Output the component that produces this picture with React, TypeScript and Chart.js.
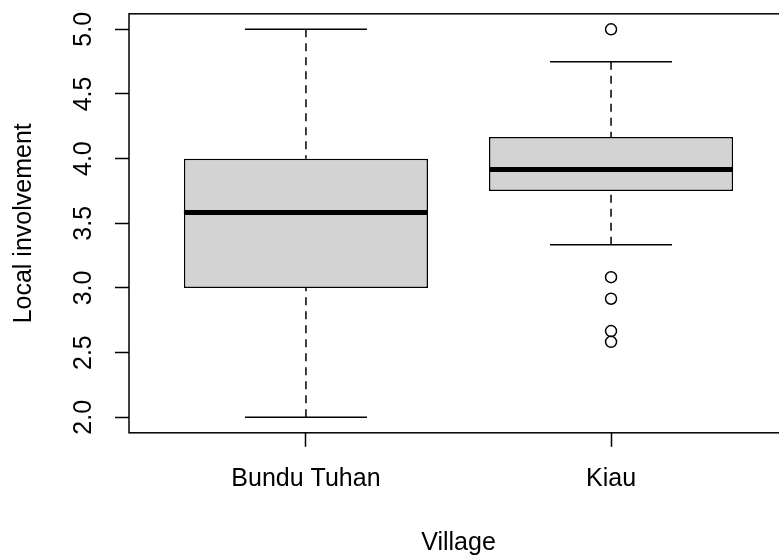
import React, { useEffect, useRef } from 'react';
import { Chart, registerables } from 'chart.js';

Chart.register(...registerables);

// ---- data ----
const categories = ['Bundu Tuhan', 'Kiau'];
const lowerWhisker = [2.0, 3.3333];
const q1 = [3.0, 3.75];
const median = [3.5833, 3.9167];
const q3 = [4.0, 4.1667];
const upperWhisker = [5.0, 4.75];
const outlierGroup = [2, 2, 2, 2, 2];
const outlierValues = [5.0, 3.0833, 2.9167, 2.6667, 2.5833];
const yTicks = [2.0, 2.5, 3.0, 3.5, 4.0, 4.5, 5.0];
const xTitle = 'Village';
const yTitle = 'Local involvement';

const FONT = "'Liberation Sans', Arial, sans-serif";
const FONT_SIZE = 25;

const boxPlugin = {
  id: 'boxExtras',
  afterDatasetsDraw(chart: any) {
    const { ctx, scales } = chart;
    const x = scales.x;
    const y = scales.y;
    const bars = chart.getDatasetMeta(0).data;
    ctx.save();
    ctx.strokeStyle = '#000';
    ctx.lineCap = 'butt';
    categories.forEach((_, i) => {
      const cx = x.getPixelForValue(i + 1);
      const half = bars[i].width / 2;
      const capHalf = half / 2;
      const yLo = y.getPixelForValue(lowerWhisker[i]);
      const yHi = y.getPixelForValue(upperWhisker[i]);
      const yQ1 = y.getPixelForValue(q1[i]);
      const yQ3 = y.getPixelForValue(q3[i]);
      const yMed = y.getPixelForValue(median[i]);
      // dashed whiskers
      ctx.lineWidth = 1.5;
      ctx.setLineDash([8, 6]);
      ctx.beginPath();
      ctx.moveTo(cx, yHi);
      ctx.lineTo(cx, yQ3);
      ctx.moveTo(cx, yLo);
      ctx.lineTo(cx, yQ1);
      ctx.stroke();
      ctx.setLineDash([]);
      // caps
      ctx.beginPath();
      ctx.moveTo(cx - capHalf, yHi);
      ctx.lineTo(cx + capHalf, yHi);
      ctx.moveTo(cx - capHalf, yLo);
      ctx.lineTo(cx + capHalf, yLo);
      ctx.stroke();
      // median
      ctx.lineWidth = 5;
      ctx.beginPath();
      ctx.moveTo(cx - half, yMed);
      ctx.lineTo(cx + half, yMed);
      ctx.stroke();
    });
    ctx.restore();
  },
  afterDraw(chart: any) {
    const { ctx, chartArea } = chart;
    ctx.save();
    ctx.strokeStyle = '#000';
    ctx.lineWidth = 1.5;
    ctx.strokeRect(chartArea.left, chartArea.top, chartArea.right - chartArea.left, chartArea.bottom - chartArea.top);
    ctx.restore();
  },
};

export default function App() {
  const ref = useRef<HTMLCanvasElement | null>(null);

  useEffect(() => {
    if (!ref.current) return;
    const font = { family: FONT, size: FONT_SIZE };
    const chart = new Chart(ref.current, {
      type: 'bar',
      data: {
        datasets: [
          {
            type: 'bar',
            label: 'box',
            data: categories.map((_, i) => ({ x: i + 1, y: [q1[i], q3[i]] })) as any,
            backgroundColor: '#D3D3D3',
            borderColor: '#000',
            borderWidth: 1.5,
            borderSkipped: false,
            barPercentage: 1,
            categoryPercentage: 0.8,
          } as any,
          {
            type: 'scatter',
            label: 'outliers',
            data: outlierValues.map((v, i) => ({ x: outlierGroup[i], y: v })),
            pointStyle: 'circle',
            pointRadius: 5.5,
            pointBorderWidth: 1.5,
            borderColor: '#000',
            backgroundColor: 'rgba(0,0,0,0)',
            showLine: false,
          } as any,
        ],
      },
      options: {
        responsive: false,
        animation: false,
        devicePixelRatio: 1,
        layout: { padding: { top: 13.8, right: 12, left: 0, bottom: 0 } },
        plugins: { legend: { display: false }, tooltip: { enabled: false } },
        scales: {
          x: {
            type: 'linear',
            min: 0.42,
            max: 2.58,
            offset: false,
            afterBuildTicks: (s: any) => {
              s.ticks = categories.map((_, i) => ({ value: i + 1 }));
            },
            afterFit: (s: any) => {
              s.height = 127.2;
              s.paddingLeft = 0;
              s.paddingRight = 0;
            },
            border: { display: false },
            grid: {
              display: true,
              offset: false,
              drawOnChartArea: false,
              drawTicks: true,
              tickLength: 14,
              tickColor: '#000',
              tickWidth: 1.5,
            },
            ticks: {
              autoSkip: false,
              maxRotation: 0,
              minRotation: 0,
              padding: 17,
              color: '#000',
              font,
              callback: (v: any) => categories[Math.round(v) - 1] ?? '',
            },
            title: {
              display: true,
              text: xTitle,
              color: '#000',
              font,
              padding: { top: 0, bottom: 1.5 },
            },
          },
          y: {
            type: 'linear',
            min: 1.88,
            max: 5.12,
            afterBuildTicks: (s: any) => {
              s.ticks = yTicks.map((v) => ({ value: v }));
            },
            afterFit: (s: any) => {
              s.width = 129;
              s.paddingTop = 0;
              s.paddingBottom = 0;
            },
            border: { display: false },
            grid: {
              display: true,
              drawOnChartArea: false,
              drawTicks: true,
              tickLength: 14,
              tickColor: '#000',
              tickWidth: 1.5,
            },
            ticks: {
              autoSkip: false,
              minRotation: 90,
              maxRotation: 90,
              crossAlign: 'center',
              padding: 13.6,
              color: '#000',
              font,
              callback: (v: any) => Number(v).toFixed(1),
            },
            title: {
              display: true,
              text: yTitle,
              color: '#000',
              font,
              padding: { top: 9, bottom: 0 },
            },
          },
        },
      } as any,
      plugins: [boxPlugin],
    });
    return () => chart.destroy();
  }, []);

  return (
    <div
      style={{
        position: 'fixed',
        left: 0,
        top: 0,
        width: 779,
        height: 557,
        overflow: 'hidden',
        background: '#fff',
      }}
    >
      <canvas ref={ref} width={800} height={560} style={{ display: 'block', width: 800, height: 560 }} />
    </div>
  );
}
